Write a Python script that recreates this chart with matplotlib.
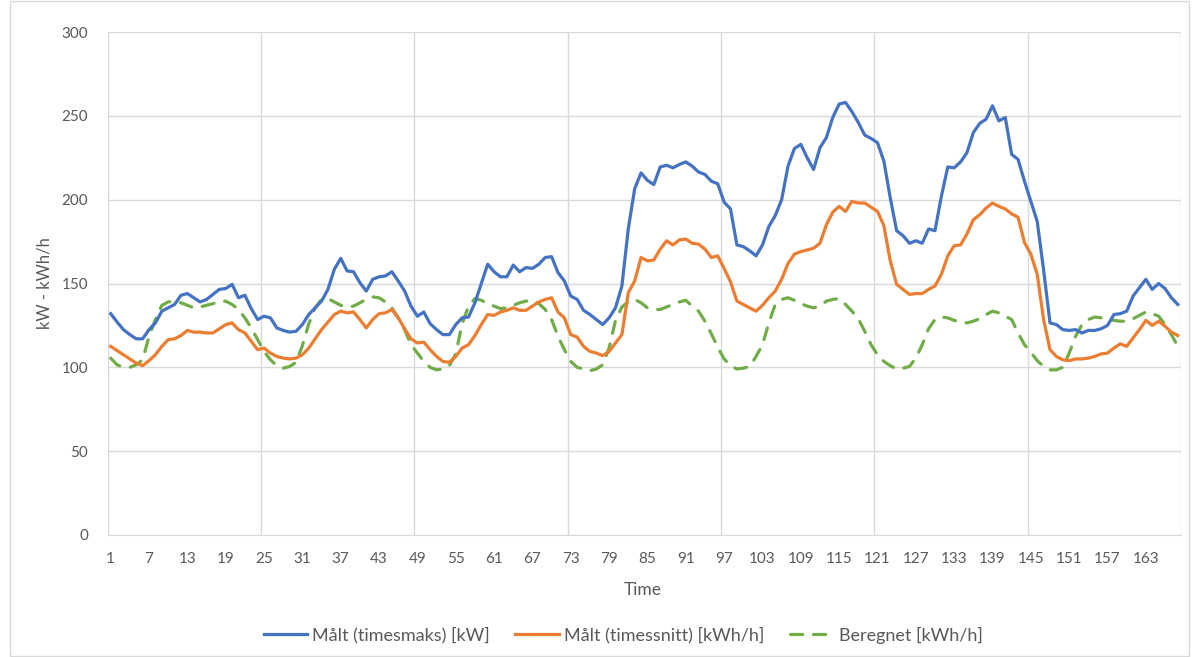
import numpy as np
import matplotlib
matplotlib.use("Agg")
import matplotlib.pyplot as plt
from matplotlib.patches import Rectangle

plt.rcParams["font.family"] = ["Lato", "DejaVu Sans"]

# hourly values, one week (hour 1..168)
maks = [132, 127, 122.5, 119.5, 117, 117, 122.5, 126.5, 133.5, 135.5,
        137.5, 143, 144, 141.5, 139, 140.5, 143.5, 146.5, 147, 149.5,
        141.5, 143, 135, 128.5, 130.5, 129.5, 123.5, 122,
        121, 121.5, 125.5, 131.5, 135.5, 139.5, 146.5, 158.5,
        165, 157.5, 157, 150.5, 145.5, 152.5, 154, 154.5, 157, 151.5,
        145.5, 136.5, 130.5, 133, 126, 122.5, 119.5, 119.5, 125.5, 129.5,
        130, 138.5, 150, 161.5,
        157, 154, 154, 161, 157, 159.5, 159, 161.5, 165.5, 166,
        156.5, 151.5, 142.5, 140.5, 134, 131.5, 128.5, 125.5, 129.5, 135.5,
        148.5, 182.5, 206.5, 216,
        211.5, 209, 219.5, 220.5, 219, 221, 222.5, 220, 216.5, 215, 211, 209.5,
        198.5, 194.5, 173, 172, 169.5, 166.5, 173, 184, 190.5, 200,
        220, 230.5, 233, 225, 218, 231, 237,
        249, 257, 258, 252.5, 246, 238.5, 236.5, 234, 223, 201,
        181.5, 178.5, 174, 175.5, 174, 182.5, 181.5, 202, 219.5, 219,
        222.5, 228, 240, 245.5, 248, 256, 247, 249,
        227, 224, 211, 199, 187, 158, 126.5, 125.5, 122.5, 122,
        122.5, 120.5, 122, 122, 123, 125, 131.5, 132, 133.5, 142.5,
        147.5, 152.5, 146.5, 150, 147, 141.5, 137.5]

snitt = [112.5, 110, 107.5, 105, 102.5, 101, 104, 107.5, 112.5, 116.5,
         117, 119, 122, 121, 121, 120.5, 120.5, 123, 125.5, 126.5,
         122.5, 120.5, 115.5, 110.5, 111.5, 108.5, 106.5, 105.5,
         105, 105.5, 107.5, 111.5, 117, 122.5, 127, 131.5,
         133.5, 132.5, 133, 128.5, 123.5, 128.5, 132, 132.5, 134.5, 129.5,
         123, 117, 114.5, 115, 110.5, 106.5, 103.5, 103, 106.5, 111.5,
         113.5, 119, 125.5, 131.5,
         131, 133, 134, 135.5, 134, 134, 136.5, 139, 140.5, 141.5,
         133, 129.5, 119.5, 118, 112.5, 109.5, 108.5, 107, 109.5, 114.5,
         119.5, 144.5, 151.5, 165.5,
         163.5, 164, 170.5, 175.5, 173, 176, 176.5, 174, 173.5, 170.5, 165.5, 166.5,
         159, 151, 139.5, 137.5, 135.5, 133.5, 137, 141.5, 145.5, 152.5,
         162, 167.5, 169, 170, 171, 174, 185,
         192.5, 196, 193, 199, 198, 198, 195.5, 193, 184.5, 163.5,
         149.5, 146.5, 143.5, 144, 144, 146.5, 148.5, 155.5, 166.5, 172.5,
         173, 179.5, 188, 191, 195, 198, 196, 194.5,
         191.5, 189.5, 174.5, 167.5, 155.5, 128.5, 110.5, 106.5, 104.5, 104,
         105, 105, 105.5, 106.5, 108, 108.5, 111.5, 114, 112.5, 117.5,
         122.5, 128, 125, 127.5, 124.5, 121, 119]

beregnet = [105.5, 101.5, 100, 100, 101.5, 104.5, 118.5, 128.5, 137, 139,
            139.5, 138.5, 137, 135.5, 136, 137, 138, 139, 139.5, 137.5,
            134.5, 129.5, 123.5, 116.5, 109.5, 104.5, 101, 99.5,
            100.5, 103, 113, 126, 135.5, 140.5, 141, 139,
            137, 136, 136.5, 138.5, 140.5, 142, 141.5, 139, 135.5, 129.5,
            122.5, 113.5, 108.5, 103.5, 100, 98.5, 99, 101, 108, 126,
            136.5, 141, 140, 138,
            136.5, 135, 135.5, 137, 138.5, 139.5, 140, 138, 134.5, 128.5,
            118.5, 110.5, 103.5, 100, 99, 98, 99, 101.5, 111.5, 128,
            136, 139, 140.5, 138.5,
            135.5, 134.5, 134.5, 136, 137.5, 139, 140, 136.5, 133.5, 127.5, 120, 112,
            105, 101, 99, 99.5, 100.5, 106.5, 113.5, 126.5, 137.5, 140.5,
            141.5, 140, 138, 136.5, 135.5, 136.5, 139.5,
            140.5, 141, 137.5, 133.5, 129, 121.5, 113.5, 107.5, 103.5, 101,
            99, 99.5, 100.5, 105.5, 113.5, 123, 128.5, 130, 129.5, 128,
            127, 126.5, 127.5, 129, 131.5, 133.5, 132.5, 130.5,
            128.5, 120.5, 113.5, 109, 104, 100.5, 98.5, 98.5, 100, 108.5,
            118.5, 125.5, 128.5, 130, 129.5, 128.5, 128, 127.5, 127.5, 129,
            131, 133, 132, 130.5, 125.5, 119.5, 112.5]

labels = ["Målt (timesmaks) [kW]", "Målt (timessnitt) [kWh/h]", "Beregnet [kWh/h]"]
colors = ["#4472C4", "#ED7D31", "#70AD47"]
grid_c = "#D9D9D9"
text_c = "#595959"

hours = np.arange(1, len(maks) + 1)

W, H = 1197, 657
fig = plt.figure(figsize=(W / 100, H / 100), dpi=100)
fig.patches.append(Rectangle((10 / W, 1 / H), 1179 / W, 655 / H, transform=fig.transFigure,
                             fill=False, edgecolor=grid_c, linewidth=1))

ax = fig.add_axes([107.5 / W, 1 - 535 / H, (1181 - 107.5) / W, (535 - 32) / H])

ax.plot(hours, maks, color=colors[0], lw=2.3, solid_joinstyle="round", label=labels[0], zorder=4)
ax.plot(hours, snitt, color=colors[1], lw=2.3, solid_joinstyle="round", label=labels[1], zorder=3)
ax.plot(hours, beregnet, color=colors[2], lw=2.3, dashes=(3.8, 3.4), dash_capstyle="round",
        label=labels[2], zorder=2)

ax.set_xlim(0.5, len(maks) + 0.5)
ax.set_ylim(0, 300)
ax.set_yticks(range(0, 301, 50))
ax.set_xticks(np.arange(1, 164, 6))
ax.set_xticks(np.arange(0.5, 169, 24), minor=True)
ax.grid(True, axis="y", color=grid_c, lw=1)
ax.grid(True, axis="x", which="minor", color=grid_c, lw=1)
ax.grid(False, axis="x", which="major")
ax.tick_params(axis="both", which="both", length=0, colors=text_c, labelsize=11)
ax.tick_params(axis="x", pad=12)
ax.tick_params(axis="y", pad=14)
for s in ["top", "right", "left"]:
    ax.spines[s].set_visible(False)
ax.spines["bottom"].set_color(grid_c)

fig.text(45 / W, 1 - 283 / H, "kW - kWh/h", rotation=90, ha="center", va="center",
         color=text_c, fontsize=12)
fig.text(643 / W, 1 - 590 / H, "Time", ha="center", va="center", color=text_c, fontsize=12.5)

fig.legend(loc="center", bbox_to_anchor=(623 / W, 1 - 635 / H), ncol=3, frameon=False,
           fontsize=13, handlelength=2.4, handletextpad=0.3, columnspacing=1.4,
           labelcolor=text_c)

fig.savefig("out.png", dpi=100)
